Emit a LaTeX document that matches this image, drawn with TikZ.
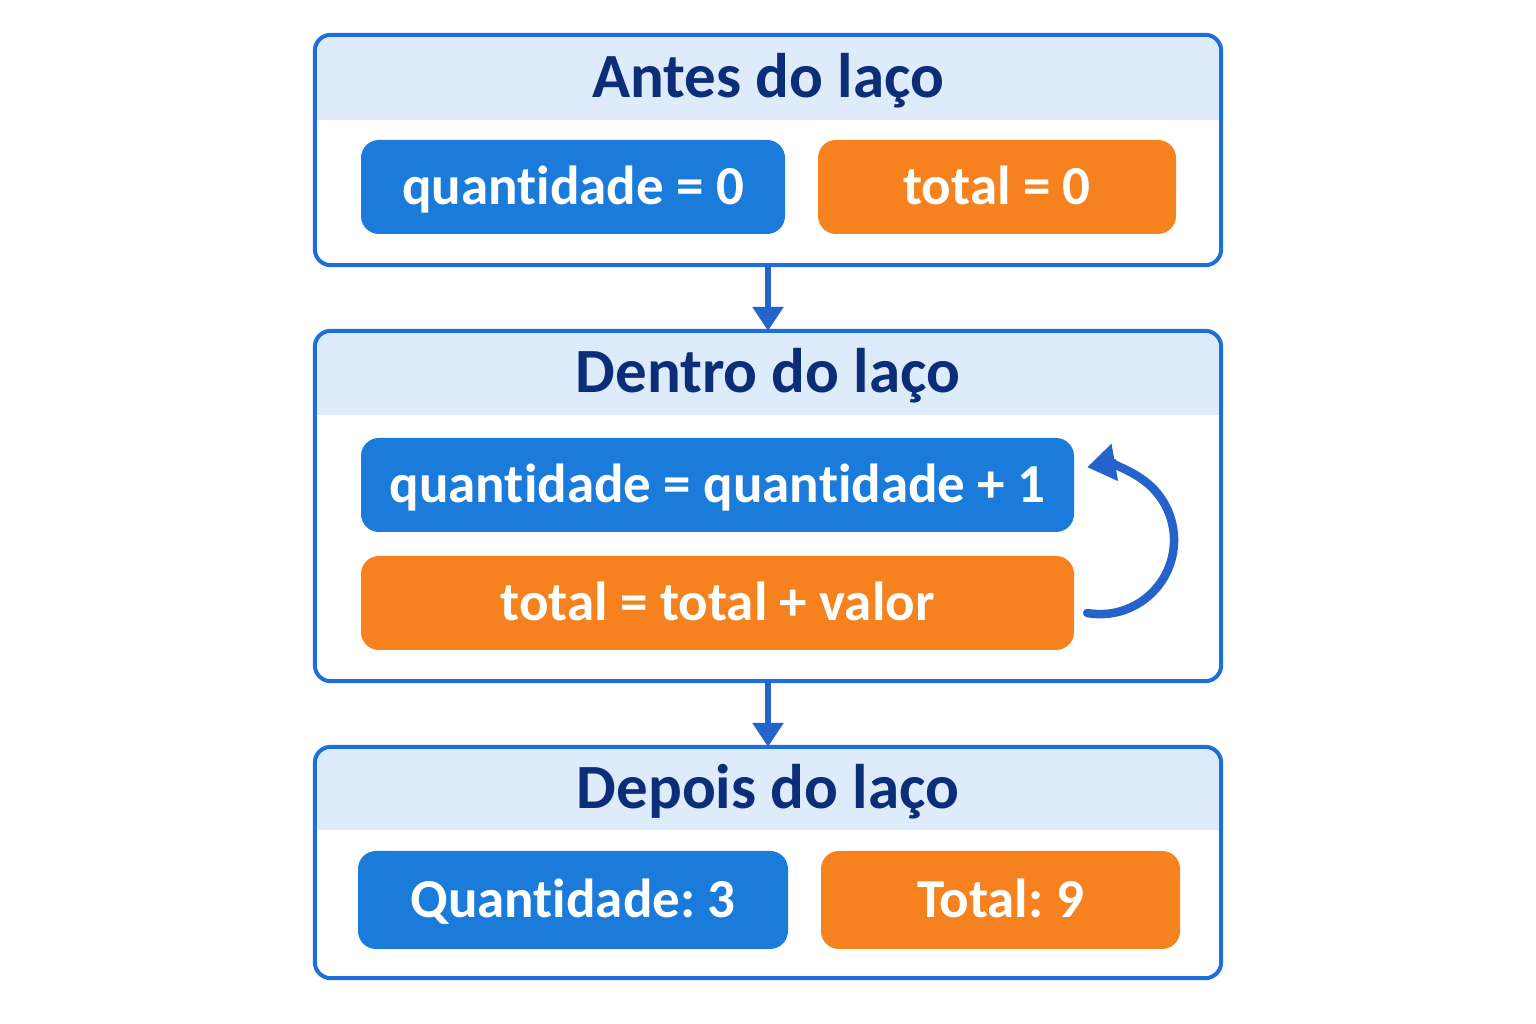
\documentclass[tikz,border=0pt]{standalone}
\usepackage{fontspec}
\setmainfont{Carlito}[Ligatures=NoCommon]
\frenchspacing
\usetikzlibrary{positioning,arrows.meta}
\definecolor{azulBorda}{HTML}{1E6FD8}
\definecolor{azulCab}{HTML}{DEEBFA}
\definecolor{azulCaixa}{HTML}{1A7BDB}
\definecolor{laranja}{HTML}{F5821F}
\definecolor{marinho}{HTML}{0C2D78}
\definecolor{azulSeta}{HTML}{2463CC}

\begin{document}
\begin{tikzpicture}[x=1pt,y=1pt,
bloco/.style={minimum width=906pt,inner sep=0pt,fill=white},
titulo/.style={text=marinho,inner sep=0pt,text height=40pt,text depth=0pt,font=\fontsize{63}{63}\selectfont\bfseries},
caixa/.style={rounded corners=18pt,text=white,minimum height=94pt,inner sep=0pt,text height=36pt,text depth=0pt,font=\fontsize{55}{55}\selectfont\bfseries},
azul/.style={caixa,fill=azulCaixa},
lar/.style={caixa,fill=laranja},
seta/.style={azulSeta,line width=6pt,-{Triangle[width=30pt,length=24pt]}},
laco/.style={azulSeta,line width=8.5pt,line cap=round,-{Triangle[width=36pt,length=28pt]}}]
\useasboundingbox[fill=white] (0,0) rectangle (1536,1024);

\node[bloco,minimum height=230pt] (antes) at (768,874) {};
\node[bloco,minimum height=350pt] (dentro) at (768,518) {};
\node[bloco,minimum height=231pt] (depois) at (768,161.5) {};

\foreach \c/\h in {antes/85,dentro/84,depois/83}{
  \fill[azulCab,rounded corners=16pt] (\c.north west) rectangle ([yshift=-\h]\c.north east);
  \fill[azulCab] ([yshift=-\h]\c.north west) rectangle ([yshift=-30]\c.north east);
  \draw[azulBorda,line width=4pt,rounded corners=16pt] (\c.south west) rectangle (\c.north east);
}

\node[titulo] (tAntes) at ([yshift=-43]antes.north) {Antes do laço};
\node[titulo] (tDentro) at ([yshift=-42]dentro.north) {Dentro do laço};
\node[titulo] (tDepois) at ([yshift=-42]depois.north) {Depois do laço};

\node[azul,minimum width=424pt] (qtdIni) at (573,837) {quantidade = 0};
\node[lar,minimum width=358pt] (totIni) at (997,837) {total = 0};
\node[azul,minimum width=713pt] (qtdInc) at (717.5,539) {quantidade = quantidade + 1};
\node[lar,minimum width=713pt] (totInc) at (717.5,421) {total = total + valor};
\node[azul,minimum width=430pt,minimum height=98pt] (qtdFim) at (573,124) {Quantidade: 3};
\node[lar,minimum width=359pt,minimum height=98pt] (totFim) at (1000.5,124) {Total: 9};

\draw[seta] (antes.south) -- (dentro.north);
\draw[seta] (dentro.south) -- (depois.north);
\draw[laco] ([shift={(13,-10)}]totInc.east) arc[start angle=-100,end angle=100,radius=74];
\end{tikzpicture}
\end{document}
